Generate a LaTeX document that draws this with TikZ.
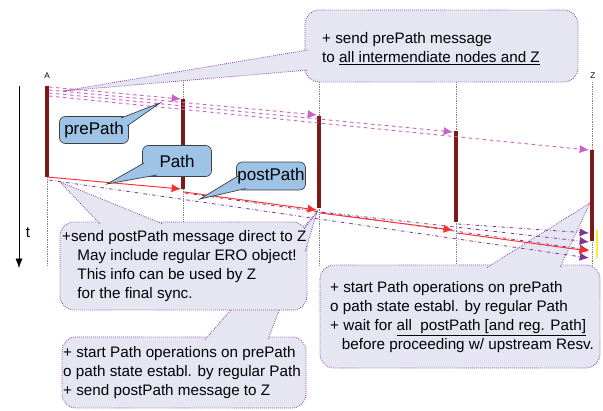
\documentclass[tikz,border=0pt]{standalone}
\usepackage{fontspec}
\setmainfont{Liberation Sans}
\usetikzlibrary{arrows.meta}

\definecolor{notefill}{RGB}{230,230,243}
\definecolor{noteline}{RGB}{140,70,160}
\definecolor{tagfill}{RGB}{157,195,230}
\definecolor{barred}{RGB}{125,25,25}
\definecolor{prepink}{RGB}{200,100,200}
\definecolor{postviolet}{RGB}{125,55,150}
\definecolor{pathred}{RGB}{255,45,45}
\definecolor{syncyellow}{RGB}{250,240,40}

\begin{document}
\begin{tikzpicture}[x=0.03cm, y=-0.03cm,
    note/.style={fill=notefill, draw=noteline, densely dotted, line width=0.7pt, rounded corners=12pt},
    noteedge/.style={draw=noteline, densely dotted, line width=0.7pt},
    notetext/.style={anchor=north west, inner sep=0pt, align=left, font=\fontsize{13}{16.2}\selectfont},
    tag/.style={fill=tagfill, draw=black!75, line width=0.6pt, rounded corners=5pt, minimum width=2.07cm, minimum height=0.84cm, inner sep=1pt},
    tagtext/.style={inner sep=0pt, font=\fontsize{14.5}{17}\selectfont},
    tagedge/.style={draw=black!75, line width=0.6pt},
    rsvpbar/.style={draw=barred, line width=2.6pt},
    life/.style={draw=gray, densely dotted, line width=0.5pt},
    prearrow/.style={draw=prepink, dashed, line width=0.8pt, -{Latex[length=8pt,width=7pt]}},
    postarrow/.style={draw=postviolet, dash dot, line width=0.7pt, -{Latex[length=8pt,width=7pt]}},
    patharrow/.style={draw=pathred, line width=0.8pt, -{Latex[length=8pt,width=7pt]}},
]
    \useasboundingbox (0,0) rectangle (603,410);

    % node names
    \node[font=\fontsize{7}{8}\selectfont] (nameA) at (47,76) {A};
    \node[font=\fontsize{7}{8}\selectfont] (nameZ) at (593,76) {Z};

    % time axis
    \coordinate (t0) at (19,86);
    \coordinate (t1) at (19,268);
    \draw[line width=0.6pt, -{Latex[length=8pt,width=6pt]}] (t0) -- (t1);
    \node[font=\fontsize{13}{15}\selectfont] (tlabel) at (28,233) {t};

    % life lines
    \coordinate (la0) at (47,177);  \coordinate (la1) at (47,266);
    \coordinate (lb0) at (183,80);  \coordinate (lb1) at (183,266);
    \coordinate (lc0) at (319,82);  \coordinate (lc1) at (319,266);
    \coordinate (ld0) at (456,82);  \coordinate (ld1) at (456,266);
    \coordinate (lz0) at (592,82);  \coordinate (lz1) at (592,280);
    \draw[life] (la0) -- (la1);
    \draw[life] (lb0) -- (lb1);
    \draw[life] (lc0) -- (lc1);
    \draw[life] (ld0) -- (ld1);
    \draw[life] (lz0) -- (lz1);

    % callout at the bottom
    \draw[note] (62,337) rectangle (306,408);
    \fill[notefill] (205,339.5) -- (317,212) -- (268,339.5) -- cycle;
    \draw[noteedge] (205,339.5) -- (317,212) -- (268,339.5);
    \node[notetext] (startmid) at (63,346) {+ start Path operations on prePath\\o path state establ. by regular Path\\+ send postPath message to Z};

    % callout in the middle
    \draw[note] (60,222) rectangle (307,310);
    \fill[notefill] (100,224) -- (60,182) -- (163,224) -- cycle;
    \draw[noteedge] (100,224) -- (60,182) -- (163,224);
    \fill[notefill] (305,228) -- (317,212) -- (305,252) -- cycle;
    \draw[noteedge] (305,228) -- (317,212) -- (305,252);
    \node[notetext] (sendpost) at (62,230) {+send postPath message direct to Z\\\hspace*{13pt}May include regular ERO object!\\\hspace*{13pt}This info can be used by Z\\\hspace*{13pt}for the final sync.};

    % callout at Z
    \draw[note] (320,265) rectangle (600,368);
    \fill[notefill] (487,267.5) -- (590,203) -- (560,267.5) -- cycle;
    \draw[noteedge] (487,267.5) -- (590,203) -- (560,267.5);
    \node[notetext] (startz) at (330,281) {+ start Path operations on prePath\\o path state establ. by regular Path\\+ wait for \underline{all\ \ postPath [and reg. Path]}\\\hspace*{10pt}before proceeding w/ upstream Resv.};

    % callout at the top
    \draw[note] (305,10) rectangle (578,82);
    \fill[notefill] (307.5,50) -- (63,91) -- (308,70) -- cycle;
    \draw[noteedge] (307.5,50) -- (63,91) -- (308,70);
    \node[notetext] (sendpre) at (322,32) {+ send prePath message\\to \underline{all intermendiate nodes and Z}};

    % bars
    \coordinate (a1) at (47,86);   \coordinate (a2) at (47,177);
    \coordinate (b1) at (183,99);  \coordinate (b2) at (183,189);
    \coordinate (c1) at (319,116); \coordinate (c2) at (319,208);
    \coordinate (d1) at (456,131); \coordinate (d2) at (456,222);
    \coordinate (z1) at (592,150); \coordinate (z2) at (592,241);
    \draw[rsvpbar] (a1) -- (a2);
    \draw[rsvpbar] (b1) -- (b2);
    \draw[rsvpbar] (c1) -- (c2);
    \draw[rsvpbar] (d1) -- (d2);
    \draw[rsvpbar] (z1) -- (z2);

    % prePath
    \coordinate (q0) at (49,87);  \coordinate (q1) at (181,99);
    \coordinate (q2) at (49,90);  \coordinate (q3) at (317,115);
    \coordinate (q4) at (49,93);  \coordinate (q5) at (453,132);
    \coordinate (q6) at (49,96);  \coordinate (q7) at (589,150);
    \draw[prearrow] (q0) -- (q1);
    \draw[prearrow] (q2) -- (q3);
    \draw[prearrow] (q4) -- (q5);
    \draw[prearrow] (q6) -- (q7);

    % postPath
    \coordinate (s0) at (49,180);  \coordinate (s1) at (589,258);
    \coordinate (s2) at (185,193); \coordinate (s3) at (589,250);
    \coordinate (s4) at (321,212); \coordinate (s5) at (589,242);
    \coordinate (s6) at (458,224); \coordinate (s7) at (589,233);
    \draw[postarrow] (s0) -- (s1);
    \draw[postarrow] (s2) -- (s3);
    \draw[postarrow] (s4) -- (s5);
    \draw[postarrow] (s6) -- (s7);

    % Path
    \coordinate (r0) at (47,177);  \coordinate (r1) at (181,189);
    \coordinate (r2) at (184,192); \coordinate (r3) at (317,210);
    \coordinate (r4) at (320,213); \coordinate (r5) at (453,230);
    \coordinate (r6) at (457,233); \coordinate (r7) at (589,251);
    \draw[patharrow] (r0) -- (r1);
    \draw[patharrow] (r2) -- (r3);
    \draw[patharrow] (r4) -- (r5);
    \draw[patharrow] (r6) -- (r7);

    % final sync
    \coordinate (y0) at (597,230); \coordinate (y1) at (597,258);
    \draw[syncyellow, line width=2pt] (y0) -- (y1);

    % labels
    \node[tag, minimum height=0.81cm] (pretag) at (94,130) {};
    \fill[tagfill] (121,118) -- (160,103) -- (127,126) -- cycle;
    \draw[tagedge] (121,118) -- (160,103) -- (127,126);
    \node[tagtext] (pretext) at (pretag) {prePath};

    \node[tag, minimum height=0.93cm] (pathtag) at (177,161) {};
    \fill[tagfill] (144,163) -- (107,184) -- (157,175) -- cycle;
    \draw[tagedge] (144,163) -- (107,184) -- (157,175);
    \node[tagtext] (pathtext) at (pathtag) {Path};

    \node[tag] (posttag) at (271,176) {};
    \fill[tagfill] (238,176) -- (200,199) -- (246,188.5) -- cycle;
    \draw[tagedge] (238,176) -- (200,199) -- (246,188.5);
    \node[tagtext] (posttext) at (posttag) {postPath};
\end{tikzpicture}
\end{document}
